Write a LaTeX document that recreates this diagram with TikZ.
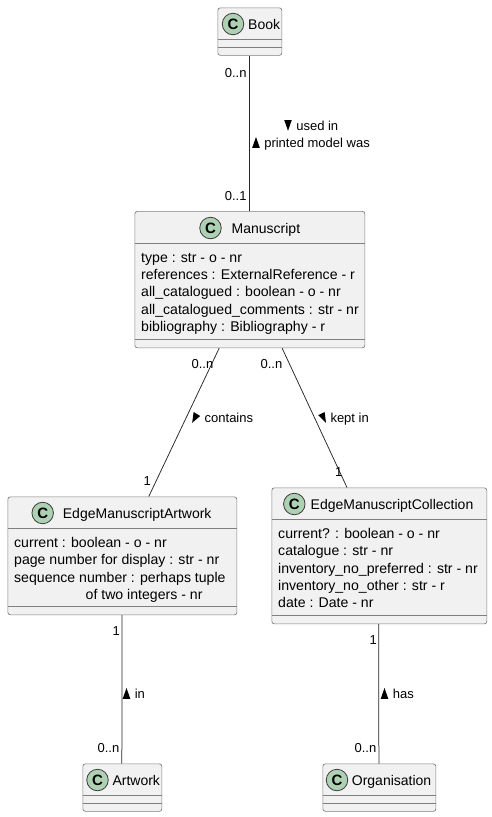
\documentclass[tikz,border=0pt]{standalone}
\usepackage{fontspec}
\setmainfont{Liberation Sans}
\usetikzlibrary{calc}
\definecolor{boxfill}{HTML}{F1F1F1}
\definecolor{boxline}{HTML}{7F7F7F}
\definecolor{spot}{HTML}{ADD1B2}
\definecolor{spotline}{HTML}{3C3C3C}
\tikzset{
  x=1pt,y=-1pt,
  classbox/.style={draw=boxline,fill=boxfill,line width=0.7pt,rounded corners=2.5pt,inner sep=0pt,anchor=north west},
  classname/.style={font=\fontsize{14}{16}\selectfont,text=black,inner sep=0pt,anchor=base west},
  spotc/.style={circle,draw=spotline,fill=spot,line width=0.8pt,minimum size=21.5pt,inner sep=0pt,font=\fontsize{15}{15}\bfseries\selectfont},
  sep/.style={draw=boxline,line width=0.7pt},
  member/.style={font=\fontsize{14.1}{16}\selectfont,text=black,inner sep=0pt,anchor=base west},
  mult/.style={font=\fontsize{13}{14}\selectfont,text=black,inner sep=0pt},
  edgelabel/.style={font=\fontsize{13}{14}\selectfont,text=black,inner sep=0pt},
  link/.style={draw=black!85,line width=0.75pt},
}
\newcommand{\classnode}[5]{%
  \node[classbox,minimum width=#4pt,minimum height=#5pt] (#1) at (#2,#3) {};
}
\newcommand{\up}{\tikz[x=1pt,y=1pt,baseline=0pt]\fill[black] (-0.3,-0.8)--(7.3,-0.8)--(3.5,10)--cycle;\hspace{4.5pt}}
\newcommand{\dn}{\tikz[x=1pt,y=1pt,baseline=0pt]\fill[black] (-0.3,10)--(7.3,10)--(3.5,-0.8)--cycle;\hspace{4.5pt}}
\newcommand{\rgt}{\tikz[x=1pt,y=1pt,baseline=0pt]\fill[black] (1,10)--(7.6,6)--(-0.4,-0.8)--cycle;\hspace{4.5pt}}
\newcommand{\lft}{\tikz[x=1pt,y=1pt,baseline=0pt]\fill[black] (6,10)--(-0.4,6.8)--(7.4,-0.8)--cycle;\hspace{4.5pt}}
\begin{document}
\begin{tikzpicture}
\useasboundingbox (0,0) rectangle (492,817);
\fill[white] (0,0) rectangle (492,817);

% Book
\classnode{book}{217.5}{7.5}{64}{47.5}
\node[spotc] (bookc) at (233,24) {C};
\node[classname] (bookn) at (248,29) {Book};
\draw[sep] (217.5,39.5) -- (281.5,39.5);
\draw[sep] (217.5,47.5) -- (281.5,47.5);

% Manuscript
\classnode{man}{134.5}{211}{230}{136.5}
\node[spotc] (manc) at (210.5,228) {C};
\node[classname] (mann) at (231.5,233) {Manuscript};
\draw[sep] (134.5,243.5) -- (364.5,243.5);
\draw[sep] (134.5,339.5) -- (364.5,339.5);
\node[member] (m1) at (141,262) {type : str - o - nr};
\node[member] (m2) at (141,279) {references : ExternalReference - r};
\node[member] (m3) at (141,296.5) {all\_catalogued : boolean - o - nr};
\node[member] (m4) at (141,314) {all\_catalogued\_comments : str - nr};
\node[member] (m5) at (141,331) {bibliography : Bibliography - r};

% EdgeManuscriptArtwork
\classnode{ema}{7.5}{496.5}{229}{118}
\node[spotc] (emac) at (42.7,513) {C};
\node[classname] (eman) at (62.7,518) {EdgeManuscriptArtwork};
\draw[sep] (7.5,528.5) -- (236.5,528.5);
\draw[sep] (7.5,606.5) -- (236.5,606.5);
\node[member] (a1) at (14,547) {current : boolean - o - nr};
\node[member] (a2) at (14,564) {page number for display : str - nr};
\node[member] (a3) at (14,582) {sequence number : perhaps tuple};
\node[member] (a4) at (85.5,599) {of two integers - nr};

% EdgeManuscriptCollection
\classnode{emc}{271.5}{487.5}{215}{136}
\node[spotc] (emcc) at (294.3,504) {C};
\node[classname] (emcn) at (310.5,509) {EdgeManuscriptCollection};
\draw[sep] (271.5,519.5) -- (486.5,519.5);
\draw[sep] (271.5,615.5) -- (486.5,615.5);
\node[member] (c1) at (278,538) {current? : boolean - o - nr};
\node[member] (c2) at (278,555) {catalogue : str - nr};
\node[member] (c3) at (278,573) {inventory\_no\_preferred : str - nr};
\node[member] (c4) at (278,590) {inventory\_no\_other : str - r};
\node[member] (c5) at (278,607.5) {date : Date - nr};

% Artwork
\classnode{art}{82.5}{763.5}{79}{47.5}
\node[spotc] (artc) at (97.5,780) {C};
\node[classname] (artn) at (112.3,785) {Artwork};
\draw[sep] (82.5,795.5) -- (161.5,795.5);
\draw[sep] (82.5,803.5) -- (161.5,803.5);

% Organisation
\classnode{org}{322.5}{763.5}{113}{47.5}
\node[spotc] (orgc) at (337,780) {C};
\node[classname] (orgn) at (351.7,785) {Organisation};
\draw[sep] (322.5,795.5) -- (435.5,795.5);
\draw[sep] (322.5,803.5) -- (435.5,803.5);

% Connectors
\coordinate (manl) at ($(man.south west)!0.367!(man.south east)$);
\coordinate (manr) at ($(man.south west)!0.64!(man.south east)$);
\coordinate (emat) at ($(ema.north west)!0.615!(ema.north east)$);
\coordinate (emct) at ($(emc.north west)!0.35!(emc.north east)$);
\coordinate (emab) at ($(ema.south west)!0.498!(ema.south east)$);
\coordinate (emcb) at ($(emc.south west)!0.497!(emc.south east)$);
\coordinate (artt) at ($(art.north west)!0.494!(art.north east)$);
\coordinate (orgt) at ($(org.north west)!0.496!(org.north east)$);
\draw[link] (book.south) -- (man.north);
\draw[link] (manl) -- (emat);
\draw[link] (manr) -- (emct);
\draw[link] (emab) -- (artt);
\draw[link] (emcb) -- (orgt);

% Multiplicities
\node[mult,anchor=base east] (l1) at (246.7,77) {0..n};
\node[mult,anchor=base east] (l2) at (246.7,200) {0..1};
\node[mult,anchor=base east] (l3) at (213.5,368) {0..n};
\node[mult,anchor=base east] (l4) at (282.5,368) {0..n};
\node[mult,anchor=base east] (l5) at (151,485) {1};
\node[mult,anchor=base east] (l6) at (342.5,476) {1};
\node[mult,anchor=base east] (l7) at (120,635) {1};
\node[mult,anchor=base east] (l8) at (377,644) {1};
\node[mult,anchor=base east] (l9) at (119.5,752) {0..n};
\node[mult,anchor=base east] (l10) at (376.5,752) {0..n};

% Edge labels
\node[edgelabel,anchor=base west] (e1) at (284,130) {\dn used in};
\node[edgelabel,anchor=base west] (e2) at (252,147) {\up printed model was};
\node[edgelabel,anchor=base west] (e3) at (192,422) {\rgt contains};
\node[edgelabel,anchor=base west] (e4) at (318,422) {\lft kept in};
\node[edgelabel,anchor=base west] (e5) at (122.5,698) {\up in};
\node[edgelabel,anchor=base west] (e6) at (380.5,698) {\up has};
\end{tikzpicture}
\end{document}
